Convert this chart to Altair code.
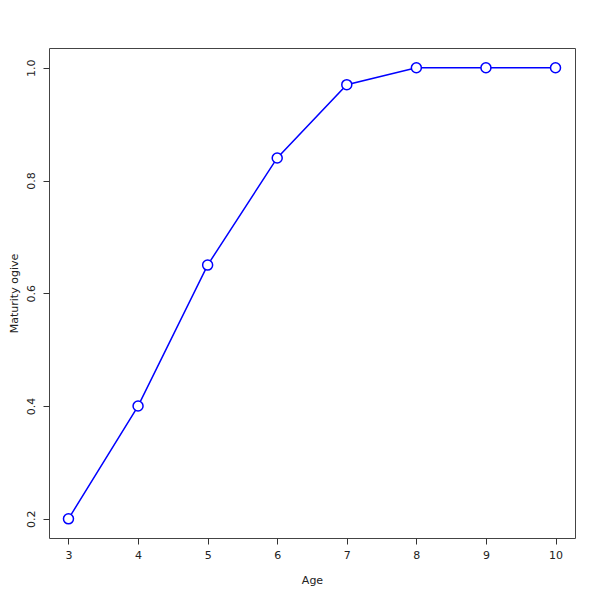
import altair as alt
import pandas as pd

ages = [3, 4, 5, 6, 7, 8, 9, 10]
maturity = [0.20, 0.40, 0.65, 0.84, 0.97, 1.00, 1.00, 1.00]
x_ticks = [3, 4, 5, 6, 7, 8, 9, 10]
y_ticks = [0.2, 0.4, 0.6, 0.8, 1.0]

df = pd.DataFrame({"Age": ages, "Maturity": maturity})

FONT = "DejaVu Sans"

x_enc = alt.X(
    "Age:Q",
    scale=alt.Scale(domain=[2.72, 10.28], nice=False, zero=False),
    axis=alt.Axis(
        values=x_ticks, title="Age", domain=False, grid=False,
        tickSize=6, tickColor="#333", labelPadding=5, labelFontSize=11,
        labelFont=FONT, labelColor="#222", titleFont=FONT, titleFontSize=11,
        titleFontWeight="normal", titleColor="#222", titlePadding=14,
        labelFlush=False,
    ),
)
y_enc = alt.Y(
    "Maturity:Q",
    scale=alt.Scale(domain=[0.166, 1.035], nice=False, zero=False),
    axis=alt.Axis(
        values=y_ticks, format=".1f", title="Maturity ogive", domain=False,
        grid=False, tickSize=6, tickColor="#333", labelAngle=270,
        labelAlign="center", labelBaseline="bottom", labelPadding=7,
        labelFontSize=11, labelFont=FONT, labelColor="#222",
        titleFont=FONT, titleFontSize=11, titleFontWeight="normal",
        titleColor="#222", titleX=-35, titleY=245, titleAngle=270,
        titleAlign="center", titleBaseline="middle", labelFlush=False,
    ),
)

line = alt.Chart(df).mark_line(color="#0000ff", strokeWidth=1.5).encode(x=x_enc, y=y_enc)
pts = alt.Chart(df).mark_point(
    shape="circle", filled=True, fill="white", stroke="#0000ff",
    strokeWidth=1.5, size=100, opacity=1,
).encode(x=x_enc, y=y_enc)

chart = (line + pts).properties(
    width=526, height=490,
    autosize=alt.AutoSizeParams(type="none"),
    padding={"left": 41, "top": 40, "right": 17, "bottom": 54},
).configure_view(stroke="#444", strokeWidth=1)

chart.save("out.html", embed_options={"renderer": "svg", "actions": False})
